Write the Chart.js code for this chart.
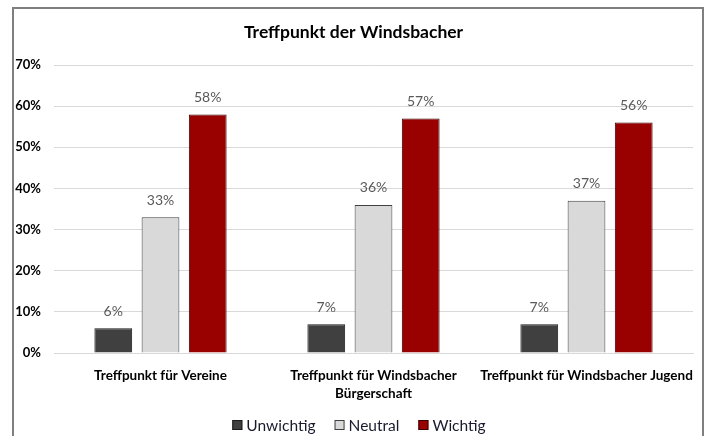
<!DOCTYPE html>
<html>
<head>
<meta charset="utf-8">
<script src="https://cdn.jsdelivr.net/npm/chart.js@4/dist/chart.umd.min.js"></script>
<style>
html,body{margin:0;padding:0;background:#fff;}
#wrap{position:relative;width:709px;height:436px;}
canvas{display:block;}
</style>
</head>
<body>
<div id="wrap"><canvas id="c" width="709" height="436"></canvas></div>
<script>
const categories = [["Treffpunkt für Vereine"], ["Treffpunkt für Windsbacher", "Bürgerschaft"], ["Treffpunkt für Windsbacher Jugend"]];
const seriesNames = ["Unwichtig", "Neutral", "Wichtig"];
const unwichtig = [6, 7, 7];
const neutral = [33, 36, 37];
const wichtig = [58, 57, 56];
const yTicks = [0, 10, 20, 30, 40, 50, 60, 70];
const titleText = "Treffpunkt der Windsbacher";

const FONT = "Lato, 'Open Sans', sans-serif";

const framePlugin = {
  id: 'frame',
  beforeDraw(chart) {
    const ctx = chart.ctx;
    ctx.save();
    ctx.fillStyle = '#fff';
    ctx.fillRect(0, 0, chart.width, chart.height);
    ctx.strokeStyle = '#7f7f7f';
    ctx.lineWidth = 2;
    ctx.strokeRect(13, 8, 690, 460);
    ctx.restore();
  }
};

const labelPlugin = {
  id: 'barLabels',
  afterDatasetsDraw(chart) {
    const ctx = chart.ctx;
    ctx.save();
    ctx.font = "14px " + FONT;
    ctx.fillStyle = '#595959';
    ctx.textAlign = 'center';
    ctx.textBaseline = 'middle';
    chart.data.datasets.forEach((ds, i) => {
      const meta = chart.getDatasetMeta(i);
      meta.data.forEach((bar, j) => {
        ctx.fillText(ds.data[j] + '%', bar.x, bar.y - 17);
      });
    });
    ctx.restore();
  }
};

const legendPlugin = {
  id: 'bottomLegend',
  afterDraw(chart) {
    const ctx = chart.ctx;
    ctx.save();
    ctx.font = "15.5px " + FONT;
    ctx.textBaseline = 'middle';
    ctx.textAlign = 'left';
    const box = 10, gapText = 4, gapItem = 19;
    const items = chart.data.datasets.map(ds => ({ ds, w: box + gapText + ctx.measureText(ds.label).width }));
    const total = items.reduce((s, it) => s + it.w, 0) + gapItem * (items.length - 1);
    let x = 359 - total / 2;
    const y = 425;
    items.forEach(it => {
      ctx.fillStyle = it.ds.backgroundColor;
      ctx.fillRect(x, y - box / 2, box, box);
      ctx.strokeStyle = it.ds.borderColor;
      ctx.lineWidth = 1;
      ctx.strokeRect(x + 0.5, y - box / 2 + 0.5, box - 1, box - 1);
      ctx.fillStyle = '#1a1a2e';
      ctx.fillText(it.ds.label, x + box + gapText, y + 1);
      x += it.w + gapItem;
    });
    ctx.restore();
  }
};

new Chart(document.getElementById('c'), {
  type: 'bar',
  data: {
    labels: categories,
    datasets: [
      { label: seriesNames[0], data: unwichtig, backgroundColor: '#404040', borderColor: '#1a1a1a', borderWidth: 1 },
      { label: seriesNames[1], data: neutral, backgroundColor: '#d9d9d9', borderColor: '#404040', borderWidth: 1 },
      { label: seriesNames[2], data: wichtig, backgroundColor: '#990000', borderColor: '#3a0000', borderWidth: 1 }
    ]
  },
  options: {
    responsive: false,
    animation: false,
    devicePixelRatio: 1,
    categoryPercentage: 0.665,
    barPercentage: 0.8,
    layout: { padding: { left: 14, right: 16, top: 10, bottom: 20.5 } },
    plugins: {
      title: {
        display: true,
        text: titleText,
        color: '#000',
        font: { family: FONT, size: 17.5, weight: 'bold' },
        padding: { top: 12, bottom: 22 }
      },
      legend: { display: false },
      tooltip: { enabled: false }
    },
    scales: {
      x: {
        grid: { display: false, drawTicks: false },
        border: { color: '#d9d9d9' },
        ticks: { color: '#000', autoSkip: false, font: { family: FONT, size: 13.5, weight: 'bold', lineHeight: 1.35 }, maxRotation: 0, padding: 13 }
      },
      y: {
        min: 0,
        max: 70,
        afterBuildTicks(axis) { axis.ticks = yTicks.map(v => ({ value: v })); },
        afterFit(axis) { axis.width = 40; },
        grid: { color: '#d9d9d9', drawTicks: false },
        border: { display: false },
        ticks: { color: '#000', font: { family: FONT, size: 13, weight: 'bold' }, padding: 13, callback: v => v + '%' }
      }
    }
  },
  plugins: [framePlugin, labelPlugin, legendPlugin]
});
</script>
</body>
</html>
